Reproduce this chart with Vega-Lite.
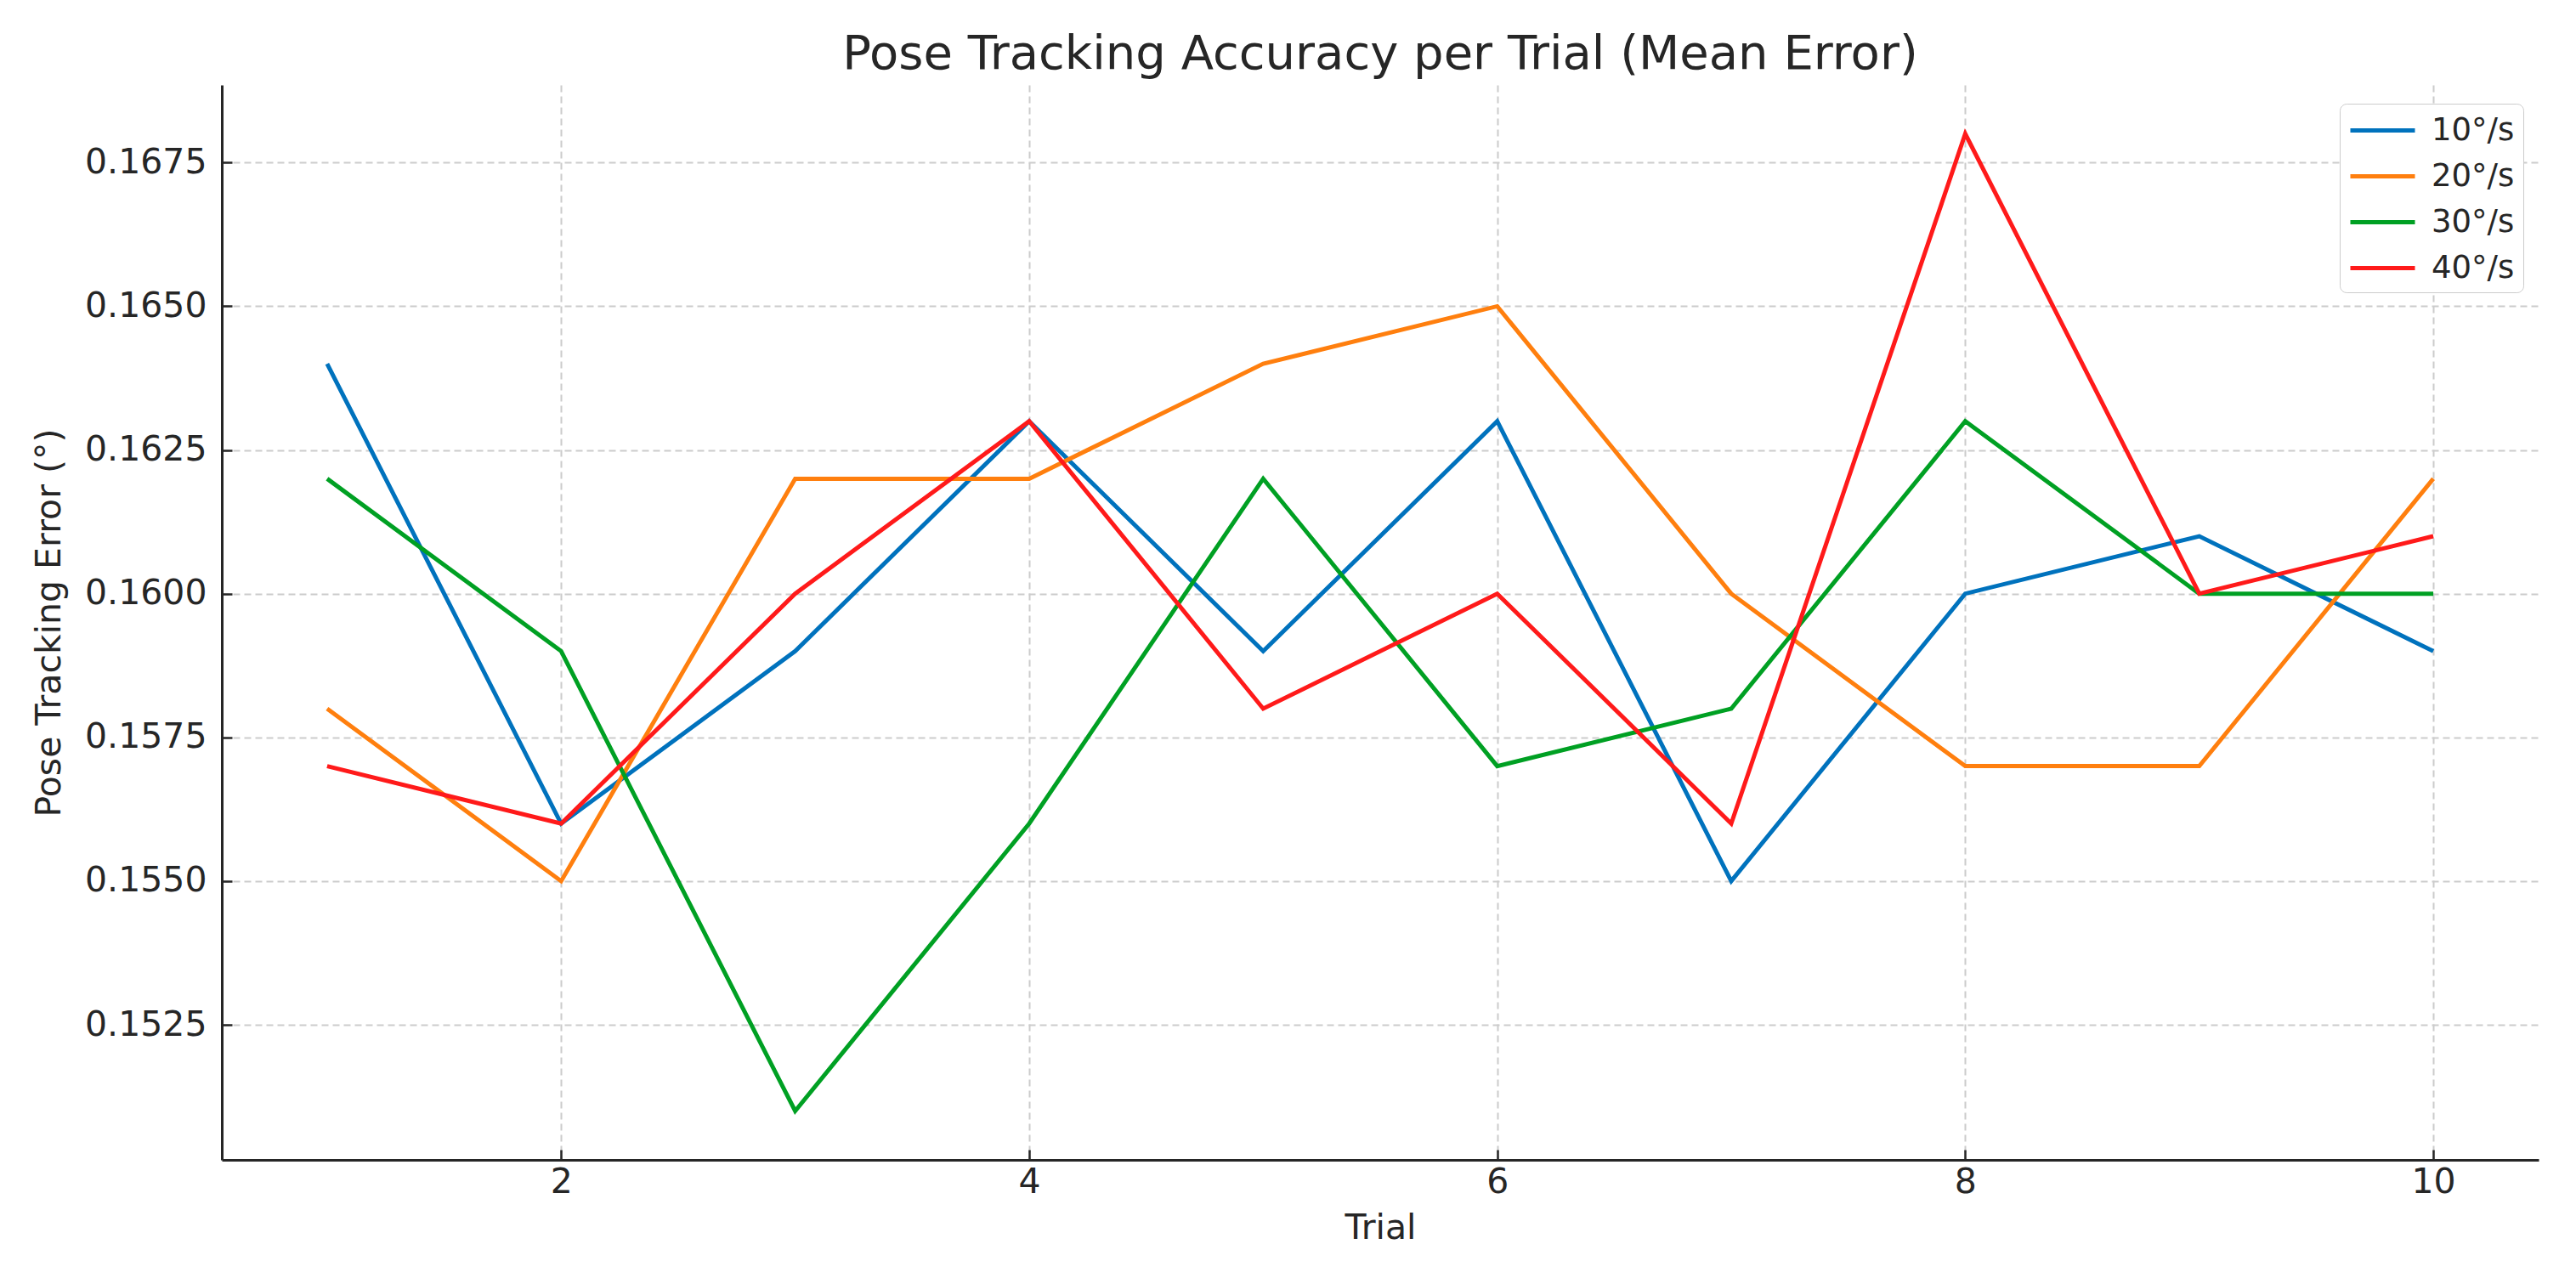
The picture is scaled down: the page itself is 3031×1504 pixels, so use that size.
{
  "$schema": "https://vega.github.io/schema/vega-lite/v6.json",
  "width": 2726,
  "height": 1265,
  "autosize": {"type": "none"},
  "padding": {"left": 261, "top": 100, "right": 44, "bottom": 139},
  "background": "white",
  "config": {
    "font": "DejaVu Sans",
    "view": {"stroke": null},
    "axis": {
      "domainColor": "#262626",
      "domainWidth": 3,
      "tickColor": "#262626",
      "tickWidth": 2.5,
      "tickSize": -12,
      "gridColor": "#cccccc",
      "gridDash": [8, 5],
      "gridWidth": 2,
      "labelFont": "DejaVu Sans",
      "labelFontSize": 41,
      "labelColor": "#262626",
      "titleFont": "DejaVu Sans",
      "titleFontSize": 41,
      "titleFontWeight": "normal",
      "titleColor": "#262626"
    }
  },
  "title": {
    "text": "Pose Tracking Accuracy per Trial (Mean Error)",
    "fontSize": 56,
    "fontWeight": "normal",
    "font": "DejaVu Sans",
    "color": "#262626",
    "anchor": "middle",
    "offset": 7
  },
  "data": {
    "values": [
      {"trial": 1, "speed": "10°/s", "error": 0.164},
      {"trial": 2, "speed": "10°/s", "error": 0.156},
      {"trial": 3, "speed": "10°/s", "error": 0.159},
      {"trial": 4, "speed": "10°/s", "error": 0.163},
      {"trial": 5, "speed": "10°/s", "error": 0.159},
      {"trial": 6, "speed": "10°/s", "error": 0.163},
      {"trial": 7, "speed": "10°/s", "error": 0.155},
      {"trial": 8, "speed": "10°/s", "error": 0.160},
      {"trial": 9, "speed": "10°/s", "error": 0.161},
      {"trial": 10, "speed": "10°/s", "error": 0.159},
      {"trial": 1, "speed": "20°/s", "error": 0.158},
      {"trial": 2, "speed": "20°/s", "error": 0.155},
      {"trial": 3, "speed": "20°/s", "error": 0.162},
      {"trial": 4, "speed": "20°/s", "error": 0.162},
      {"trial": 5, "speed": "20°/s", "error": 0.164},
      {"trial": 6, "speed": "20°/s", "error": 0.165},
      {"trial": 7, "speed": "20°/s", "error": 0.160},
      {"trial": 8, "speed": "20°/s", "error": 0.157},
      {"trial": 9, "speed": "20°/s", "error": 0.157},
      {"trial": 10, "speed": "20°/s", "error": 0.162},
      {"trial": 1, "speed": "30°/s", "error": 0.162},
      {"trial": 2, "speed": "30°/s", "error": 0.159},
      {"trial": 3, "speed": "30°/s", "error": 0.151},
      {"trial": 4, "speed": "30°/s", "error": 0.156},
      {"trial": 5, "speed": "30°/s", "error": 0.162},
      {"trial": 6, "speed": "30°/s", "error": 0.157},
      {"trial": 7, "speed": "30°/s", "error": 0.158},
      {"trial": 8, "speed": "30°/s", "error": 0.163},
      {"trial": 9, "speed": "30°/s", "error": 0.160},
      {"trial": 10, "speed": "30°/s", "error": 0.160},
      {"trial": 1, "speed": "40°/s", "error": 0.157},
      {"trial": 2, "speed": "40°/s", "error": 0.156},
      {"trial": 3, "speed": "40°/s", "error": 0.160},
      {"trial": 4, "speed": "40°/s", "error": 0.163},
      {"trial": 5, "speed": "40°/s", "error": 0.158},
      {"trial": 6, "speed": "40°/s", "error": 0.160},
      {"trial": 7, "speed": "40°/s", "error": 0.156},
      {"trial": 8, "speed": "40°/s", "error": 0.168},
      {"trial": 9, "speed": "40°/s", "error": 0.160},
      {"trial": 10, "speed": "40°/s", "error": 0.161}
    ]
  },
  "mark": {"type": "line", "strokeWidth": 5},
  "encoding": {
    "x": {
      "field": "trial",
      "type": "quantitative",
      "title": "Trial",
      "scale": {"domain": [0.55, 10.45], "nice": false, "zero": false},
      "axis": {"values": [2, 4, 6, 8, 10], "format": "d", "labelPadding": 18, "titlePadding": 14}
    },
    "y": {
      "field": "error",
      "type": "quantitative",
      "title": "Pose Tracking Error (°)",
      "scale": {"domain": [0.15015, 0.16885], "nice": false, "zero": false},
      "axis": {"values": [0.1525, 0.155, 0.1575, 0.16, 0.1625, 0.165, 0.1675], "format": ".4f", "labelPadding": 30, "titlePadding": 20}
    },
    "color": {
      "field": "speed",
      "type": "nominal",
      "title": null,
      "scale": {
        "domain": ["10°/s", "20°/s", "30°/s", "40°/s"],
        "range": ["#0072BD", "#FF7F0E", "#00A023", "#FF1A1A"]
      },
      "legend": {
        "orient": "none",
        "legendX": 2492,
        "legendY": 22,
        "symbolType": "M-1,0H3",
        "symbolSize": 1444,
        "symbolStrokeWidth": 5,
        "labelFontSize": 37,
        "labelColor": "#262626",
        "labelFont": "DejaVu Sans",
        "labelOffset": 55,
        "rowPadding": 14,
        "padding": 10,
        "strokeColor": "#cccccc",
        "fillColor": "white",
        "cornerRadius": 8
      }
    }
  }
}
